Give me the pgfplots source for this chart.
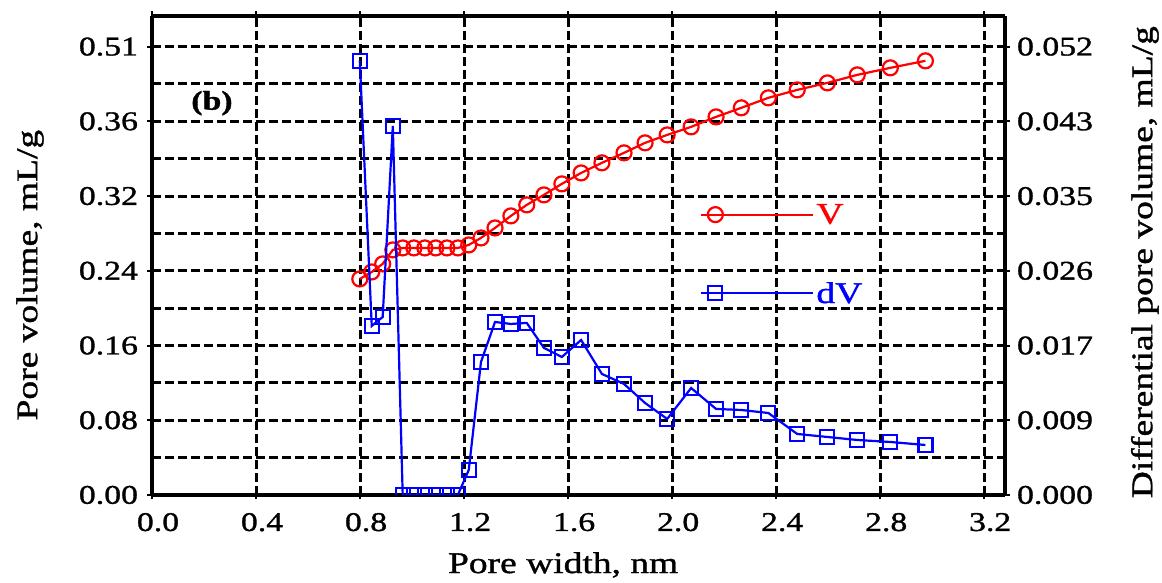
\documentclass[border=0pt]{standalone}
\usepackage{fontspec}
\setmainfont{Liberation Serif}[FakeStretch=1.25, FakeBold=1.2]
\usepackage{pgfplots}
\pgfplotsset{compat=1.18}
\begin{document}
\begin{tikzpicture}
\pgfplotsset{
  base/.style={
    scale only axis, width=853pt, height=479pt,
    xmin=0, xmax=3.28,
    tick label style={font=\fontsize{27}{30}\selectfont, black},
    label style={font=\fontsize{30}{34}\selectfont},
    tick align=center, major tick length=9pt,
    tick style={black, line width=2pt},
    axis line style={black, line width=3.5pt},
    scaled y ticks=false, scaled x ticks=false,
  }
}
\begin{axis}[base, name=ax,
  ymin=0, ymax=0.5128,
  xtick={0,0.4,0.8,1.2,1.6,2.0,2.4,2.8,3.2},
  xticklabels={0.0,0.4,0.8,1.2,1.6,2.0,2.4,2.8,3.2},
  ytick={0,0.08,0.16,0.24,0.32,0.40,0.48},
  yticklabels={0.00,0.08,0.16,0.24,0.32,0.36,0.51},
  minor ytick={0.04,0.12,0.20,0.28,0.36,0.44},
  xticklabel style={yshift=-10pt, xshift=6pt},
  yticklabel style={xshift=-6pt},
  grid=both,
  major grid style={black, line width=3pt, dash pattern=on 9pt off 4pt},
  minor grid style={black, line width=3pt, dash pattern=on 9pt off 4pt},
  xlabel={Pore width, nm},
  ylabel={Pore volume, mL/g},
  xlabel style={at={(axis description cs:0.482,-0.146)}, anchor=center},
  ylabel style={at={(axis description cs:-0.143,0.459)}, anchor=center},
  axis y line*=left, axis x line*=box,
]
\addplot[red, line width=2.2pt, mark=o, mark size=7.5pt, mark options={line width=2.2pt}] coordinates {
(0.799,0.2313)(0.845,0.2388)(0.887,0.2474)(0.926,0.2624)(0.964,0.2645)(1.007,0.2645)
(1.049,0.2645)(1.091,0.2645)(1.134,0.2645)(1.176,0.2645)(1.218,0.2677)(1.265,0.2752)
(1.319,0.2859)(1.380,0.2988)(1.441,0.3106)(1.507,0.3213)(1.576,0.3331)(1.650,0.3448)
(1.730,0.3556)(1.815,0.3663)(1.896,0.3770)(1.981,0.3855)(2.073,0.3941)(2.169,0.4048)
(2.266,0.4145)(2.370,0.4252)(2.481,0.4337)(2.597,0.4412)(2.712,0.4498)(2.839,0.4573)
(2.974,0.4648)};
\node[font=\bfseries\fontsize{27}{30}\selectfont] at (axis description cs:0.0703,0.818) {(b)};
\end{axis}
\begin{axis}[base,
  ymin=0, ymax=0.05556,
  axis y line*=right, axis x line=none,
  ytick={0,0.0086667,0.0173333,0.026,0.0346667,0.0433333,0.052},
  yticklabels={0.000,0.009,0.017,0.026,0.035,0.043,0.052},
  yticklabel style={xshift=4pt},
  ylabel={Differential pore volume, mL/g},
  ylabel style={at={(axis description cs:1.164,0.486)}, anchor=center},
  clip marker paths=true,
  legend style={draw=none, fill=none, at={(axis description cs:0.6425,0.612)}, anchor=north west,
    font=\fontsize{30}{34}\selectfont, row sep=53pt, inner sep=0pt},
  legend cell align=left,
  legend image code/.code={\draw[#1, mark repeat=3, mark phase=2] plot coordinates {(0pt,0pt) (14pt,0pt) (112pt,0pt)};},
]
\addlegendimage{red, line width=2.2pt, mark=o, mark size=7.5pt, mark options={line width=2.2pt}}
\addlegendentry{\textcolor{red}{V}}
\addplot[blue, line width=2.2pt, mark=square, mark size=7pt, mark options={line width=2.2pt}] coordinates {
(0.799,0.05035)(0.845,0.01961)(0.887,0.02065)(0.926,0.04281)(0.964,0)(1.007,0)
(1.049,0)(1.091,0)(1.134,0)(1.176,0)(1.218,0.00290)(1.265,0.01543)
(1.319,0.02007)(1.380,0.01984)(1.441,0.01996)(1.507,0.01706)(1.576,0.01601)(1.650,0.01798)
(1.730,0.01404)(1.815,0.01288)(1.896,0.01067)(1.981,0.00882)(2.073,0.01241)(2.169,0.00998)
(2.266,0.00986)(2.370,0.00951)(2.481,0.00708)(2.597,0.00673)(2.712,0.00638)(2.839,0.00615)
(2.974,0.00580)};
\addlegendentry{\textcolor{blue}{dV}}
\end{axis}
\pgfresetboundingbox
\path ([shift={(-152pt,-88pt)}]ax.south west) rectangle ([shift={(157pt,16pt)}]ax.north east);
\end{tikzpicture}
\end{document}
